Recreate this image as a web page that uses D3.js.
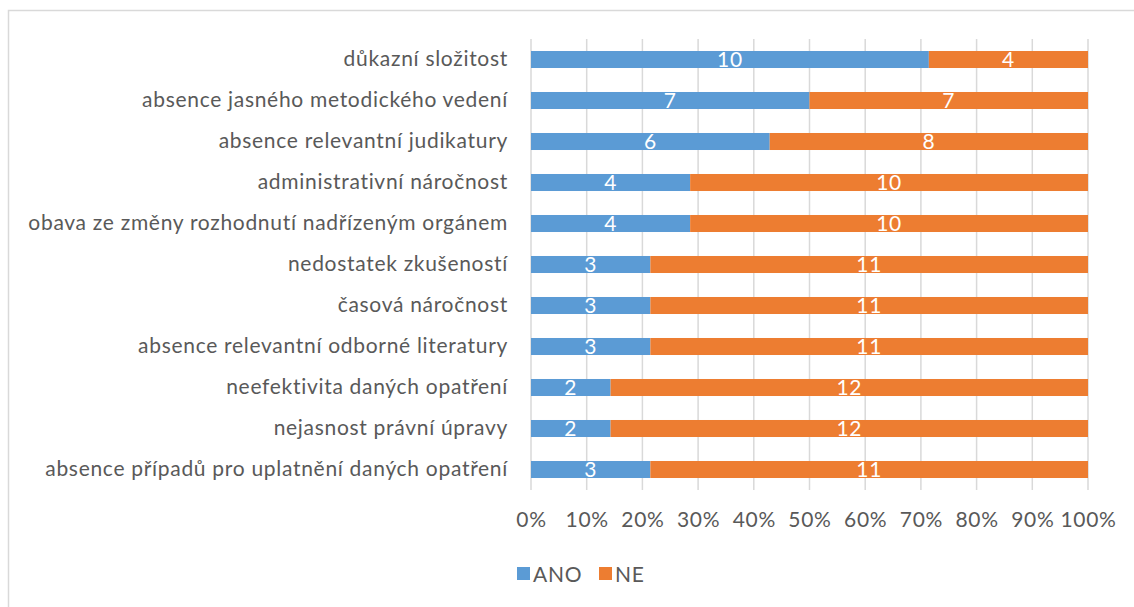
<!DOCTYPE html>
<html>
<head>
<meta charset="utf-8">
<script src="https://cdn.jsdelivr.net/npm/d3@7"></script>
<style>
  body { margin: 0; background: #fff; }
  text { font-family: Lato, "Open Sans", sans-serif; letter-spacing: 0.7px; }
</style>
</head>
<body>
<div class="chart"></div>
<script>
// chart data
var categories = [
  "důkazní složitost",
  "absence jasného metodického vedení",
  "absence relevantní judikatury",
  "administrativní náročnost",
  "obava ze změny rozhodnutí nadřízeným orgánem",
  "nedostatek zkušeností",
  "časová náročnost",
  "absence relevantní odborné literatury",
  "neefektivita daných opatření",
  "nejasnost právní úpravy",
  "absence případů pro uplatnění daných opatření"
];
var ano = [10, 7, 6, 4, 4, 3, 3, 3, 2, 2, 3];
var ne = [4, 7, 8, 10, 10, 11, 11, 11, 12, 12, 11];
var seriesNames = ["ANO", "NE"];
var tickValues = [0, 0.1, 0.2, 0.3, 0.4, 0.5, 0.6, 0.7, 0.8, 0.9, 1];

var svgWidth = 1134;
var svgHeight = 607;
var fontSize = "21px";

var margin = { top: 39, right: 46, bottom: 117, left: 531 };
var width = svgWidth - margin.left - margin.right;
var height = svgHeight - margin.top - margin.bottom;

var colors = { ANO: "#5B9BD5", NE: "#ED7D31" };

var svg = d3.select(".chart")
  .append("svg")
  .attr("width", svgWidth)
  .attr("height", svgHeight);

// outer frame
svg.append("rect")
  .attr("x", 8.5)
  .attr("y", 10.5)
  .attr("width", 1140)
  .attr("height", 620)
  .attr("fill", "none")
  .attr("stroke", "#D9D9D9")
  .attr("stroke-width", 1.5);

var chartGroup = svg.append("g")
  .attr("transform", `translate(${margin.left}, ${margin.top})`);

var data = categories.map(function(c, i) {
  return { cat: c, ANO: ano[i], NE: ne[i], total: ano[i] + ne[i] };
});

var xScale = d3.scaleLinear().domain([0, 1]).range([0, width]);
var yScale = d3.scaleBand().domain(categories).range([0, height]).paddingInner(0.585).paddingOuter(0.2925);

// gridlines
chartGroup.selectAll(".grid")
  .data(tickValues)
  .enter()
  .append("line")
  .attr("x1", d => xScale(d))
  .attr("x2", d => xScale(d))
  .attr("y1", 0)
  .attr("y2", height)
  .attr("stroke", "#D9D9D9")
  .attr("stroke-width", 1.5);

// x axis labels
var bottomAxis = d3.axisBottom(xScale)
  .tickValues(tickValues)
  .tickFormat(d3.format(".0%"))
  .tickSize(0)
  .tickPadding(22);

var xAxis = chartGroup.append("g")
  .attr("transform", `translate(0, ${height})`)
  .call(bottomAxis);
xAxis.select(".domain").remove();
xAxis.selectAll("text")
  .attr("fill", "#595959")
  .style("font-size", fontSize);

// y axis labels
var leftAxis = d3.axisLeft(yScale).tickSize(0).tickPadding(23);
var yAxis = chartGroup.append("g").call(leftAxis);
yAxis.select(".domain").remove();
yAxis.selectAll("text")
  .attr("fill", "#595959")
  .style("font-size", fontSize);

// stacked bars
var stack = d3.stack().keys(seriesNames)
  .value((d, key) => d[key] / d.total);
var series = stack(data);

var layers = chartGroup.selectAll(".layer")
  .data(series)
  .enter()
  .append("g")
  .attr("fill", d => colors[d.key]);

layers.selectAll("rect")
  .data(d => d)
  .enter()
  .append("rect")
  .attr("x", d => xScale(d[0]))
  .attr("y", d => yScale(d.data.cat))
  .attr("width", d => xScale(d[1]) - xScale(d[0]))
  .attr("height", yScale.bandwidth());

// value labels
series.forEach(function(s) {
  chartGroup.selectAll(".lbl-" + s.key)
    .data(s)
    .enter()
    .append("text")
    .attr("x", d => (xScale(d[0]) + xScale(d[1])) / 2)
    .attr("y", d => yScale(d.data.cat) + yScale.bandwidth() / 2)
    .attr("dy", "0.36em")
    .attr("text-anchor", "middle")
    .attr("fill", "white")
    .style("font-size", fontSize)
    .text(d => d.data[s.key]);
});

// legend
var legend = svg.append("g")
  .attr("transform", "translate(517, 574)");

var legendX = [0, 82];
seriesNames.forEach(function(name, i) {
  legend.append("rect")
    .attr("x", legendX[i])
    .attr("y", -7)
    .attr("width", 13)
    .attr("height", 13)
    .attr("fill", colors[name]);
  legend.append("text")
    .attr("x", legendX[i] + 16)
    .attr("y", 0)
    .attr("dy", "0.36em")
    .attr("fill", "#595959")
    .style("font-size", fontSize)
    .text(name);
});
</script>
</body>
</html>
